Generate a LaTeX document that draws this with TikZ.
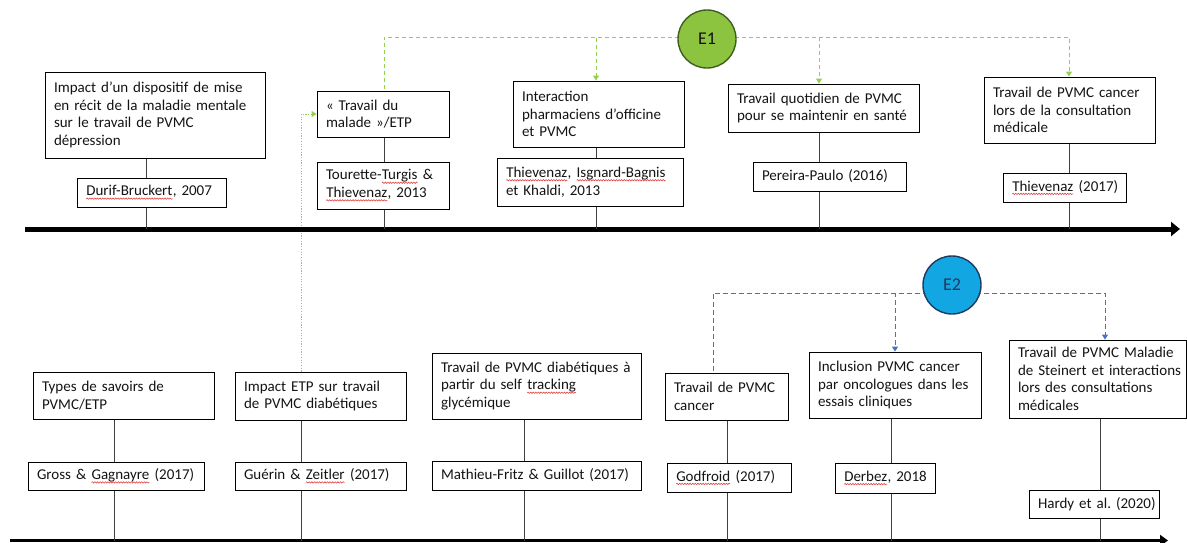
\documentclass[tikz,border=0pt]{standalone}
\usepackage{fontspec}
\setmainfont{Carlito}
\usetikzlibrary{arrows.meta,backgrounds,decorations.pathmorphing}
\frenchspacing
\definecolor{txt}{HTML}{141414}
\definecolor{stemc}{HTML}{404040}
\definecolor{egreen}{HTML}{8CC43F}
\definecolor{egreenb}{HTML}{3F5F1E}
\definecolor{gline}{HTML}{92D050}
\definecolor{eblue}{HTML}{12A7E2}
\definecolor{eblueb}{HTML}{1F3A5F}
\definecolor{bline}{HTML}{4472C4}
\definecolor{spellred}{HTML}{E03C3C}
\tikzset{
  sqword/.style={draw=none, fill=none, inner sep=0pt, outer sep=0pt, minimum width=0pt,
    minimum height=0pt, text width={}, align=none, anchor=base},
  sqline/.style={draw=spellred, line width=0.55pt, decorate,
    decoration={snake, amplitude=0.7pt, segment length=2.6pt}},
}
\newcommand\sq[1]{\tikz[baseline=(sqw.base)]{\node[sqword] (sqw) {#1};
  \path[sqline] ([yshift=-2.8pt]sqw.base west) -- ([yshift=-2.8pt]sqw.base east);}}
\newcommand\nb[1]{\mbox{#1}}
\begin{document}
\begin{tikzpicture}[x=1pt,y=-1pt,
  every node/.style={font=\fontsize{15}{17.6}\selectfont, text=txt},
  box/.style n args={3}{draw=black, line width=0.9pt, fill=white, inner xsep=9pt, inner ysep=0pt,
     minimum width=#1, minimum height=#2, text width=#3, align=left},
  evt/.style={circle, line width=1.4pt, minimum size=58pt, inner sep=0pt, font=\fontsize{18}{20}\selectfont},
  stem/.style={draw=stemc, line width=0.9pt},
  gdash/.style={draw=gline, line width=0.9pt, dash pattern=on 4pt off 3pt},
  gdot/.style={draw=gline, line width=0.9pt, dash pattern=on 1.2pt off 1.5pt},
  bdash/.style={draw=bline, line width=0.9pt, dash pattern=on 5pt off 3pt},
  gtip/.style={-{Triangle[length=5pt,width=6pt,fill=gline]}},
  btip/.style={-{Triangle[length=5pt,width=6pt,fill=bline]}},
  timeline/.style={draw=black, line width=#1},
]
\useasboundingbox (0,0) rectangle (1187,542);

% timeline anchor points
\coordinate (tstart) at (25,229);
\coordinate (tend) at (1180,229);
\coordinate (t1) at (146,229);
\coordinate (t2) at (384,229);
\coordinate (t3) at (596,229);
\coordinate (t4) at (819,229);
\coordinate (t5) at (1069,229);
\coordinate (bstart) at (10,540.5);
\coordinate (bend) at (1168,540.5);
\coordinate (b1) at (114,540.5);
\coordinate (b2) at (301,540.5);
\coordinate (b3) at (524,540.5);
\coordinate (b4) at (727,540.5);
\coordinate (b5) at (891,540.5);
\coordinate (b6) at (1100,540.5);

% top row
\node[box={220pt}{86pt}{202pt}] (T1) at (155,115) {\nb{Impact d’un dispositif de mise}\\\nb{en récit de la maladie mentale}\\\nb{sur le travail de PVMC}\\\nb{dépression}};
\node[box={149pt}{29pt}{131pt}] (R1) at (151.5,192.5) {\nb{\sq{Durif-Bruckert}, 2007}};
\node[box={132pt}{46pt}{114pt}] (T2) at (383,114) {\nb{« Travail du}\\\nb{malade »/ETP}};
\node[box={132pt}{47pt}{114pt}] (R2) at (383,185.5) {\nb{Tourette-\sq{Turgis} \&}\\\nb{\sq{Thievenaz}, 2013}};
\node[box={171pt}{66pt}{153pt}] (T3) at (598.5,114) {\nb{Interaction}\\\nb{pharmaciens d’officine}\\\nb{et PVMC}};
\node[box={186pt}{48pt}{168pt}] (R3) at (590,182) {\nb{\sq{Thievenaz}, \sq{Isgnard-Bagnis}}\\\nb{et Khaldi, 2013}};
\node[box={191pt}{48pt}{173pt}] (T4) at (823.5,108) {\nb{Travail quotidien de PVMC}\\\nb{pour se maintenir en santé}};
\node[box={153pt}{29pt}{135pt}] (R4) at (829.5,176.5) {\nb{Pereira-Paulo (2016)}};
\node[box={171pt}{66pt}{153pt}] (T5) at (1069.5,110) {\nb{Travail de PVMC cancer}\\\nb{lors de la consultation}\\\nb{médicale}};
\node[box={123pt}{29pt}{105pt}] (R5) at (1064.5,187.5) {\nb{\sq{Thievenaz} (2017)}};
\node[evt, draw=egreenb, fill=egreen] (E1) at (707,39) {E1};

% bottom row
\node[box={181pt}{47pt}{163pt}] (B1) at (123.5,395.5) {\nb{Types de savoirs de}\\\nb{PVMC/ETP}};
\node[box={176pt}{28pt}{158pt}] (BR1) at (116,476) {\nb{Gross \& \sq{Gagnayre} (2017)}};
\node[box={171pt}{48pt}{153pt}] (B2) at (320.5,396) {\nb{Impact ETP sur travail}\\\nb{de PVMC diabétiques}};
\node[box={171pt}{28pt}{153pt}] (BR2) at (320.5,476) {\nb{Guérin \& \sq{Zeitler} (2017)}};
\node[box={209pt}{66pt}{191pt}] (B3) at (536.5,386) {\nb{Travail de PVMC diabétiques à}\\\nb{partir du self \sq{tracking}}\\\nb{glycémique}};
\node[box={209pt}{29pt}{191pt}] (BR3) at (536.5,475.5) {\nb{Mathieu-Fritz \& Guillot (2017)}};
\node[box={123pt}{47pt}{105pt}] (B4) at (726.5,396.5) {\nb{Travail de PVMC}\\\nb{cancer}};
\node[box={124pt}{29pt}{106pt}] (BR4) at (729,477.5) {\nb{\sq{Godfroid} (2017)}};
\node[box={172pt}{66pt}{154pt}] (B5) at (895,385) {\nb{Inclusion PVMC cancer}\\\nb{par oncologues dans les}\\\nb{essais cliniques}};
\node[box={100pt}{30pt}{82pt}] (BR5) at (885,478) {\nb{\sq{Derbez}, 2018}};
\node[box={177pt}{78pt}{159pt}] (B6) at (1097.5,379) {\nb{Travail de PVMC Maladie}\\\nb{de Steinert et interactions}\\\nb{lors des consultations}\\\nb{médicales}};
\node[box={130pt}{28pt}{112pt}] (BR6) at (1094,504) {\nb{Hardy et al. (2020)}};
\node[evt, draw=eblueb, fill=eblue, text=eblueb] (E2) at (952,285) {E2};

\begin{scope}[on background layer]
  % green dotted link from bottom row to top row
  \draw[gdot, gtip] (B2.north -| b2) |- (T2.west);
  % timelines
  \draw[timeline=5pt, -{Triangle[length=9pt,width=14pt]}] (tstart) -- (tend);
  \draw[timeline=3.5pt, -{Triangle[length=8pt,width=11pt]}] (bstart) -- (bend);
  % stems
  \foreach \t/\b in {t1/T1,t2/T2,t3/T3,t4/T4,t5/T5,b1/B1,b2/B2,b3/B3,b4/B4,b5/B5,b6/B6}
    \draw[stem] (\t) -- (\b.south -| \t);
  % E1 links
  \draw[gdash] ([yshift=2pt]E1.center) -| (T2.north -| t2);
  \draw[gdash, gtip] ([yshift=2pt]E1.center) -| (T3.north -| t3);
  \draw[gdash, gtip] ([yshift=2pt]E1.center) -| (T4.north -| t4);
  \draw[gdash, gtip] ([yshift=2pt]E1.center) -| (T5.north -| t5);
  % E2 links
  \draw[bdash] ([yshift=-8pt]E2.center) -| ([xshift=-13.5pt]B4.north);
  \draw[bdash, btip] ([yshift=-8pt]E2.center) -| (B5.north);
  \draw[bdash, btip] ([yshift=-8pt]E2.center) -| ([xshift=7.5pt]B6.north);
\end{scope}
\end{tikzpicture}
\end{document}
